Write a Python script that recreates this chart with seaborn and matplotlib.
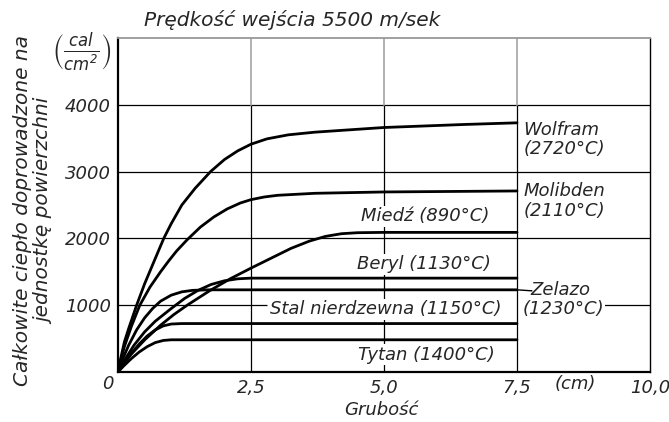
import pandas as pd
import matplotlib
matplotlib.use("Agg")
import matplotlib.pyplot as plt
import seaborn as sns

# -------------------------------------------------
# DATA
# -------------------------------------------------
wolfram_x = [0, 0.05, 0.12, 0.2, 0.35, 0.5, 0.69, 0.86, 1.0, 1.2, 1.45, 1.74,
             2.0, 2.25, 2.5, 2.8, 3.2, 3.7, 5.0, 6.5, 7.5]
wolfram_y = [0, 200, 450, 650, 1000, 1320, 1680, 2000, 2220, 2500, 2750, 3000,
             3180, 3310, 3410, 3490, 3550, 3590, 3660, 3705, 3730]

molibden_x = [0, 0.05, 0.12, 0.25, 0.41, 0.6, 0.8, 0.95, 1.1, 1.3, 1.55, 1.8,
              2.05, 2.3, 2.5, 2.75, 3.0, 3.7, 5.0, 7.5]
molibden_y = [0, 170, 380, 680, 1000, 1270, 1500, 1660, 1810, 1980, 2170, 2320,
              2440, 2530, 2580, 2620, 2645, 2675, 2695, 2710]

miedz_x = [0, 0.1, 0.25, 0.5, 0.8, 1.05, 1.3, 1.73, 2.12, 2.5, 3.25, 3.6, 3.9,
           4.2, 4.5, 5.0, 7.5]
miedz_y = [0, 118, 268, 480, 700, 860, 1000, 1220, 1400, 1555, 1850, 1960, 2030,
           2070, 2085, 2090, 2090]

beryl_x = [0, 0.1, 0.3, 0.5, 0.7, 1.0, 1.25, 1.5, 1.75, 2.0, 2.25, 2.5, 7.5]
beryl_y = [0, 150, 400, 600, 760, 950, 1100, 1220, 1310, 1365, 1395, 1405, 1405]

zelazo_x = [0, 0.08, 0.2, 0.35, 0.5, 0.65, 0.8, 1.0, 1.2, 1.4, 1.7, 7.5]
zelazo_y = [0, 180, 400, 630, 810, 950, 1060, 1150, 1200, 1222, 1230, 1230]

stal_x = [0, 0.1, 0.25, 0.4, 0.55, 0.7, 0.85, 1.0, 1.2, 7.5]
stal_y = [0, 120, 280, 420, 540, 630, 690, 718, 725, 725]

tytan_x = [0, 0.1, 0.25, 0.4, 0.55, 0.7, 0.85, 1.0, 7.5]
tytan_y = [0, 85, 200, 300, 380, 440, 472, 482, 482]

x_ticks = [2.5, 5.0, 7.5, 10.0]
x_tick_labels = ["2,5", "5,0", "7,5", "10,0"]
y_ticks = [1000, 2000, 3000, 4000]
y_tick_labels = ["1000", "2000", "3000", "4000"]

series = {
    "Wolfram": (wolfram_x, wolfram_y),
    "Molibden": (molibden_x, molibden_y),
    "Miedź": (miedz_x, miedz_y),
    "Beryl": (beryl_x, beryl_y),
    "Zelazo": (zelazo_x, zelazo_y),
    "Stal": (stal_x, stal_y),
    "Tytan": (tytan_x, tytan_y),
}

rows = []
for name, (xs, ys) in series.items():
    for x, y in zip(xs, ys):
        rows.append({"material": name, "grubosc": x, "cieplo": y})
df = pd.DataFrame(rows)

# -------------------------------------------------
# STYLE
# -------------------------------------------------
sns.set_style("white")
plt.rcParams["font.family"] = ["DejaVu Sans"]
plt.rcParams["font.style"] = "italic"
plt.rcParams["mathtext.fontset"] = "dejavusans"
plt.rcParams["mathtext.default"] = "it"

FS = 13
fig = plt.figure(figsize=(6.69, 4.22), dpi=100)
ax = fig.add_axes([0.1764, 0.1185, 0.7952, 0.7915])

# grid drawn by hand (1000 line is broken by the labels)
for yv in [2000, 3000, 4000]:
    ax.axhline(yv, color="black", lw=0.9, zorder=1)
ax.hlines(1000, 0, 2.8, color="black", lw=0.9, zorder=1)
ax.hlines(1000, 8.75, 10, color="black", lw=0.9, zorder=1)
for xv in [2.5, 5.0, 7.5]:
    ax.axvline(xv, ymin=0, ymax=0.8, color="black", lw=0.9, zorder=1)
    ax.axvline(xv, ymin=0.8, ymax=1, color="#aaaaaa", lw=1.3, zorder=1)

sns.lineplot(data=df, x="grubosc", y="cieplo", hue="material",
             palette={m: "black" for m in series}, estimator=None,
             sort=False, legend=False, lw=2.0, ax=ax, zorder=4)
for line in ax.get_lines():
    line.set_solid_joinstyle("round")

ax.set_xlim(0, 10)
ax.set_ylim(0, 5000)
ax.set_xticks(x_ticks)
ax.set_xticklabels(x_tick_labels, fontsize=FS)
ax.set_yticks(y_ticks)
ax.set_yticklabels(y_tick_labels, fontsize=FS)
ax.tick_params(length=0, pad=5)
ax.set_xlabel("")
ax.set_ylabel("")

for side in ["left", "bottom"]:
    ax.spines[side].set_color("black")
    ax.spines[side].set_linewidth(1.6)
ax.spines["right"].set_color("black")
ax.spines["right"].set_linewidth(1.0)
ax.spines["top"].set_color("#999999")
ax.spines["top"].set_linewidth(1.3)

# -------------------------------------------------
# LABELS
# -------------------------------------------------
box = dict(facecolor="white", edgecolor="none", pad=1.0)
ax.text(7.62, 3480, "Wolfram\n(2720°C)", fontsize=FS, va="center",
        ha="left", linespacing=1.1)
ax.text(7.62, 2560, "Molibden\n(2110°C)", fontsize=FS, va="center",
        ha="left", linespacing=1.1)
ax.text(5.78, 2330, "Miedź (890°C)", fontsize=FS, ha="center", va="center",
        bbox=box, zorder=3)
ax.text(5.75, 1610, "Beryl (1130°C)", fontsize=FS, ha="center", va="center",
        bbox=box, zorder=3)
ax.text(2.85, 940, "Stal nierdzewna (1150°C)", fontsize=FS, ha="left",
        va="center", bbox=box, zorder=3)
ax.text(5.8, 260, "Tytan (1400°C)", fontsize=FS, ha="center", va="center",
        bbox=box, zorder=3)
ax.text(7.75, 1220, "Zelazo", fontsize=FS, ha="left", va="center")
ax.text(7.6, 950, "(1230°C)", fontsize=FS, ha="left", va="center",
        bbox=box, zorder=3)
ax.plot([7.5, 7.78], [1230, 1215], color="black", lw=1.0, zorder=4)

ax.text(8.6, -180, "(cm)", fontsize=FS, ha="center", va="center")
ax.text(-0.2, -180, "0", fontsize=FS, ha="center", va="center")
ax.text(4.95, -570, "Grubość", fontsize=FS, ha="center", va="center")
ax.text(-0.68, 4790, r"$\left(\frac{cal}{cm^2}\right)$", fontsize=17,
        ha="center", va="center")

fig.text(0.437, 0.952, "Prędkość wejścia 5500 m/sek", fontsize=14.5,
         ha="center", va="center")
fig.text(0.05, 0.5,
         "Całkowite ciepło doprowadzone na\njednostkę powierzchni",
         fontsize=14.5, rotation=90, ha="center", va="center",
         multialignment="center", linespacing=1.2)

fig.savefig("out.png", dpi=100, facecolor="white")
